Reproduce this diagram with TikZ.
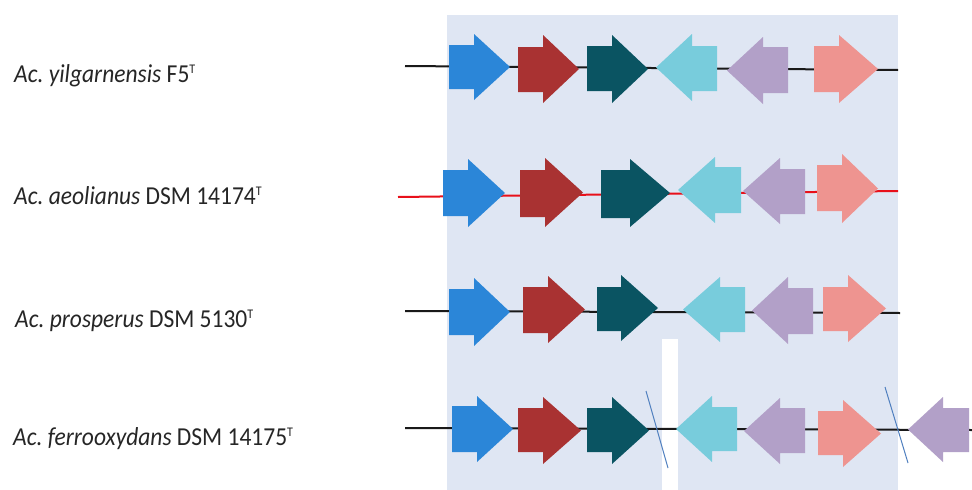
\documentclass[tikz,border=0pt]{standalone}
\usepackage{fontspec}
\setmainfont{Carlito}
\frenchspacing
\definecolor{gblue}{HTML}{2B86D8}
\definecolor{gred}{HTML}{A93232}
\definecolor{gteal}{HTML}{0A5462}
\definecolor{gcyan}{HTML}{78CCDC}
\definecolor{gpurple}{HTML}{B2A0C8}
\definecolor{gpink}{HTML}{EE9490}
\definecolor{bgblue}{HTML}{DFE6F3}
\definecolor{redline}{HTML}{E8101A}
\definecolor{slashc}{HTML}{4F7FBF}
\newcommand{\geneR}[8]{\fill[#8] (#1,#4) -- (#2,#4) -- (#2,#6) -- (#3,{(#6+#7)/2}) -- (#2,#7) -- (#2,#5) -- (#1,#5) -- cycle;}
\newcommand{\geneL}[8]{\fill[#8] (#3,#4) -- (#2,#4) -- (#2,#6) -- (#1,{(#6+#7)/2}) -- (#2,#7) -- (#2,#5) -- (#3,#5) -- cycle;}
\newcommand{\supT}{\raisebox{8pt}{\fontsize{12}{12}\selectfont T}}
\newcommand{\labtxt}[1]{\scalebox{1}[1.1]{#1}}
\begin{document}
\begin{tikzpicture}[x=1pt,y=-1pt,
  lab/.style={anchor=base west,inner sep=0pt,font=\fontsize{23.5}{27}\selectfont,text=black!85},
  backbone/.style={line width=2pt,draw=black!90},
  redbone/.style={line width=2pt,draw=redline},
  slash/.style={line width=1pt,draw=slashc}]
\useasboundingbox (0,0) rectangle (972,490);
\fill[white] (0,0) rectangle (972,490);
% background panels
\fill[bgblue] (447,15) rectangle (898,490);
\fill[white] (662,339) rectangle (678,490);
% labels
\node[lab] (l1) at (14,82) {\labtxt{\textit{Ac. yilgarnensis} F5\supT}};
\node[lab] (l2) at (14,204) {\labtxt{\textit{Ac. aeolianus} DSM 14174\supT}};
\node[lab] (l3) at (15,327) {\labtxt{\textit{Ac. prosperus} DSM 5130\supT}};
\node[lab] (l4) at (13,445) {\labtxt{\textit{Ac. ferrooxydans} DSM 14175\supT}};
% backbones
\coordinate (r1a) at (405,66); \coordinate (r1b) at (898,70);
\coordinate (r2a) at (398,197); \coordinate (r2b) at (898,191);
\coordinate (r3a) at (405,311); \coordinate (r3b) at (900,313);
\coordinate (r4a) at (405,428); \coordinate (r4b) at (972,430);
\draw[backbone] (r1a) -- (r1b);
\draw[redbone] (r2a) -- (r2b);
\draw[backbone] (r3a) -- (r3b);
\draw[backbone] (r4a) -- (r4b);
% row 1
\geneR{449}{474}{510}{45}{89}{34}{100}{gblue}
\geneR{518}{543}{579}{47}{92}{35}{103}{gred}
\geneR{587}{612}{648}{46}{91}{35}{103}{gteal}
\geneL{656}{692}{717}{46}{91}{34}{101}{gcyan}
\geneL{727}{763}{788}{47}{93}{37}{104}{gpurple}
\geneR{814}{839}{878}{46}{92}{35}{103}{gpink}
% row 2
\geneR{443}{468}{505}{170}{216}{159}{227}{gblue}
\geneR{520}{545}{583}{170}{217}{158}{227}{gred}
\geneR{601}{630}{670}{170}{218}{159}{227}{gteal}
\geneL{678}{715}{741}{167}{213}{157}{223}{gcyan}
\geneL{743}{780}{805}{169}{214}{158}{224}{gpurple}
\geneR{817}{842}{878}{165}{211}{154}{223}{gpink}
% row 3
\geneR{449}{474}{510}{289}{335}{278}{346}{gblue}
\geneR{523}{548}{585}{287}{333}{276}{343}{gred}
\geneR{597}{621}{658}{287}{331}{275}{341}{gteal}
\geneL{683}{720}{745}{287}{332}{277}{342}{gcyan}
\geneL{752}{788}{813}{288}{334}{277}{344}{gpurple}
\geneR{823}{848}{886}{287}{331}{275}{342}{gpink}
% row 4
\geneR{452}{477}{513}{406}{452}{396}{462}{gblue}
\geneR{518}{543}{581}{408}{452}{397}{464}{gred}
\geneR{587}{612}{649}{408}{452}{397}{464}{gteal}
\geneL{676}{712}{737}{407}{451}{396}{462}{gcyan}
\geneL{744}{780}{805}{408}{453}{398}{464}{gpurple}
\geneR{818}{843}{881}{411}{455}{400}{467}{gpink}
\geneL{908}{943}{969}{408}{452}{397}{462}{gpurple}
% break marks
\coordinate (s1a) at (646,391); \coordinate (s1b) at (668,468);
\coordinate (s2a) at (885,387); \coordinate (s2b) at (908,463);
\draw[slash] (s1a) -- (s1b);
\draw[slash] (s2a) -- (s2b);
\end{tikzpicture}
\end{document}
